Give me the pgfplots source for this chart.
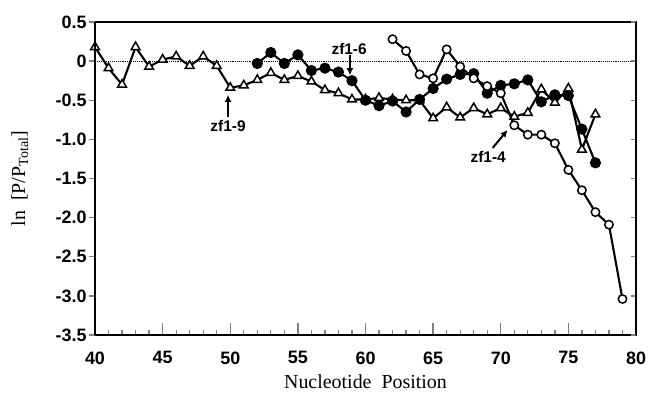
\documentclass[border=0pt]{standalone}
\usepackage{pgfplots}
\pgfplotsset{compat=1.18}
\usetikzlibrary{arrows.meta}
\usepackage{fontspec}
\setmainfont{Liberation Sans}
\newfontfamily\timesfont{Liberation Serif}
\begin{document}
\begin{tikzpicture}
\begin{axis}[
  scale only axis,
  width=541bp, height=313bp,
  xmin=40, xmax=80, ymin=-3.5, ymax=0.5,
  axis line style={line width=1.3bp},
  xtick={40,45,...,80},
  xticklabels={40,45,50,55,60,65,70,75,80},
  minor x tick num=4,
  xtick pos=bottom,
  ytick={-3.5,-3,...,0.5},
  yticklabels={-3.5,-3.0,-2.5,-2.0,-1.5,-1.0,-0.5,0,0.5},
  ytick pos=left,
  tick align=inside,
  x tick style={line width=1.3bp},
  y tick style={draw=none},
  major tick length=12bp,
  minor tick length=5bp,
  ticklabel style={font=\fontsize{18}{18}\selectfont\bfseries},
  xticklabel style={yshift=-13bp},
  yticklabel style={xshift=-5bp},
  xlabel={\timesfont Nucleotide\ \ Position},
  ylabel={\timesfont ln\ \ [P/P$_{\mbox{\timesfont\fontsize{14}{14}\selectfont Total}}$]},
  label style={font=\fontsize{20}{20}\selectfont},
  xlabel style={at={(axis description cs:0.5,-0.148)}, anchor=center},
  ylabel style={at={(axis description cs:-0.139,0.5)}, anchor=center},
  clip=false,
  every axis plot/.append style={line width=2.1bp},
]
\coordinate (sw) at (rel axis cs:0,0);
\coordinate (ne) at (rel axis cs:1,1);
\addplot[black, line width=0.9bp, densely dotted] coordinates {(40,0) (80,0)};
% open triangles
\addplot[black, mark=triangle*, mark size=5bp, mark options={fill=white, line width=1.5bp}] coordinates {
(40,0.18) (41,-0.09) (42,-0.30) (43,0.18) (44,-0.07) (45,0.02) (46,0.06) (47,-0.06) (48,0.06) (49,-0.06)
(50,-0.34) (51,-0.31) (52,-0.24) (53,-0.15) (54,-0.24) (55,-0.19) (56,-0.26) (57,-0.37) (58,-0.41) (59,-0.49)
(60,-0.49) (61,-0.47) (62,-0.49) (63,-0.50) (64,-0.50) (65,-0.73) (66,-0.59) (67,-0.72) (68,-0.60) (69,-0.68)
(70,-0.60) (71,-0.71) (72,-0.66) (73,-0.36) (74,-0.53) (75,-0.35) (76,-1.13) (77,-0.68)};
% filled circles
\addplot[black, mark=*, mark size=4.5bp, mark options={fill=black}] coordinates {
(52,-0.03) (53,0.11) (54,-0.03) (55,0.08) (56,-0.12) (57,-0.09) (58,-0.14) (59,-0.25)
(60,-0.50) (61,-0.57) (62,-0.51) (63,-0.65) (64,-0.49) (65,-0.35) (66,-0.23) (67,-0.17) (68,-0.16) (69,-0.41)
(70,-0.31) (71,-0.29) (72,-0.24) (73,-0.52) (74,-0.43) (75,-0.44) (76,-0.87) (77,-1.30)};
% open circles
\addplot[black, mark=*, mark size=4.2bp, mark options={fill=white, line width=1.5bp}] coordinates {
(62,0.28) (63,0.13) (64,-0.17) (65,-0.22) (66,0.15) (67,-0.07) (68,-0.22) (69,-0.32)
(70,-0.41) (71,-0.82) (72,-0.94) (73,-0.94) (74,-1.05) (75,-1.39) (76,-1.65) (77,-1.93) (78,-2.09) (79,-3.04)};
% annotations
\node[font=\fontsize{15.5}{15.5}\selectfont\bfseries] at (axis cs:49.84,-0.83) {zf1-9};
\draw[-{Latex[length=7bp,width=7bp]}, line width=2bp] (axis cs:49.84,-0.72) -- (axis cs:49.84,-0.43);
\node[font=\fontsize{15.5}{15.5}\selectfont\bfseries] at (axis cs:58.79,0.15) {zf1-6};
\draw[-{Latex[length=7bp,width=7bp]}, line width=2bp] (axis cs:58.85,0.08) -- (axis cs:58.85,-0.18);
\node[font=\fontsize{15.5}{15.5}\selectfont\bfseries] at (axis cs:69.07,-1.22) {zf1-4};
\draw[-{Latex[length=7bp,width=7bp]}, line width=2bp] (axis cs:69.40,-1.11) -- (axis cs:70.50,-0.88);
\end{axis}
\begin{axis}[
  scale only axis,
  width=541bp, height=313bp,
  xmin=40, xmax=80, ymin=-3.5, ymax=0.5,
  axis x line=none,
  axis y line*=left,
  axis line style={line width=1.3bp},
  ytick={-3.5,-3,...,0.5},
  yticklabels={},
  tick align=outside,
  major tick length=6bp,
  y tick style={line width=1.3bp},
]
\end{axis}
\begin{axis}[
  scale only axis,
  width=541bp, height=313bp,
  xmin=40, xmax=80, ymin=-3.5, ymax=0.5,
  axis x line=none,
  axis y line*=right,
  axis line style={line width=1.3bp},
  ytick={-3.5,-3,...,0.5},
  yticklabels={},
  tick align=inside,
  major tick length=5bp,
  y tick style={line width=1.3bp},
]
\end{axis}
\pgfresetboundingbox
\path ([shift={(-95bp,-59bp)}]sw) rectangle ([shift={(13bp,22bp)}]ne);
\end{tikzpicture}
\end{document}
